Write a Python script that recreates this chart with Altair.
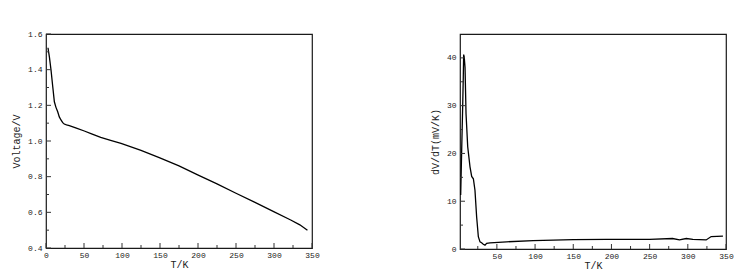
import altair as alt
import pandas as pd

# Left panel: Voltage vs T
t_v = [2.6, 4.5, 6.6, 9, 11, 13, 15.4, 17.5, 19.7, 22, 24, 27, 30.7, 40, 50.4, 60, 72, 85, 98.7, 125, 149, 175, 199.6, 225, 250, 275, 299.6, 322, 334, 344]
voltage = [1.523, 1.47, 1.398, 1.30, 1.22, 1.19, 1.164, 1.135, 1.118, 1.103, 1.095, 1.09, 1.086, 1.072, 1.056, 1.04, 1.02, 1.004, 0.987, 0.948, 0.907, 0.86, 0.81, 0.76, 0.707, 0.656, 0.604, 0.557, 0.53, 0.499]

# Right panel: dV/dT vs T
t_d = [2.6, 3.9, 5.2, 6.0, 6.5, 7.2, 8.3, 9.6, 11.8, 14.8, 17, 19.2, 21.3, 23.5, 25.7, 27.9, 30, 32.2, 34.4, 36.6, 41, 62.7, 97.6, 150, 193, 250, 280, 289, 298, 306.6, 324, 330.6, 346]
dvdt = [11.3, 20.7, 29.7, 36, 40.7, 40.2, 38, 28.3, 21.4, 17.2, 15.2, 14.7, 12.3, 6.7, 2.6, 1.5, 1.3, 1.0, 0.8, 1.2, 1.3, 1.5, 1.74, 1.95, 2.0, 2.0, 2.2, 1.9, 2.2, 2.0, 1.9, 2.6, 2.7]

x_major_left = [0, 50, 100, 150, 200, 250, 300, 350]
x_minor = [25, 75, 125, 175, 225, 275, 325]
y_major_left = [0.4, 0.6, 0.8, 1.0, 1.2, 1.4, 1.6]
y_minor_left = [0.5, 0.7, 0.9, 1.1, 1.3, 1.5]
x_major_right = [50, 100, 150, 200, 250, 300, 350]
y_major_right = [0, 10, 20, 30, 40]
y_minor_right = [5, 15, 25, 35]

FONT = "Liberation Mono"
W, H1, H2 = 266, 214, 215


def panel(df, ycol, ytitle, xdom, ydom, xmaj, xmin, ymaj, ymin, H, yfmt):
    xs = alt.Scale(domain=xdom, nice=False, zero=False)
    ys = alt.Scale(domain=ydom, nice=False, zero=False)
    xaxis = alt.Axis(values=xmaj, ticks=False, domain=False, grid=False,
                     labelOverlap=False, labelFlush=False,
                     labelFont=FONT, labelFontSize=8, labelColor="#222",
                     titleFont=FONT, titleFontSize=10, titleFontWeight="normal",
                     titleColor="#222", labelPadding=3, titlePadding=0)
    yaxis = alt.Axis(values=ymaj, ticks=False, domain=False, grid=False, format=yfmt,
                     labelOverlap=False, labelFlush=False,
                     labelFont=FONT, labelFontSize=8, labelColor="#222",
                     titleFont=FONT, titleFontSize=10, titleFontWeight="normal",
                     titleColor="#222", labelPadding=4, titlePadding=6)
    line = alt.Chart(df).mark_line(color="black", strokeWidth=1.3, clip=True).encode(
        x=alt.X("T:Q", scale=xs, title="T/K", axis=xaxis),
        y=alt.Y(f"{ycol}:Q", scale=ys, title=ytitle, axis=yaxis),
    )
    xticks_maj = alt.Chart(pd.DataFrame({"T": xmaj})).mark_rule(color="#333", strokeWidth=1).encode(
        x=alt.X("T:Q", scale=xs, title="T/K", axis=xaxis), y=alt.value(H), y2=alt.value(H - 5))
    xticks_min = alt.Chart(pd.DataFrame({"T": xmin})).mark_rule(color="#333", strokeWidth=1).encode(
        x=alt.X("T:Q", scale=xs, title="T/K", axis=xaxis), y=alt.value(H), y2=alt.value(H - 3))
    yticks_maj = alt.Chart(pd.DataFrame({"Y": ymaj})).mark_rule(color="#333", strokeWidth=1).encode(
        y=alt.Y("Y:Q", scale=ys, title=ytitle, axis=yaxis), x=alt.value(0), x2=alt.value(5))
    yticks_min = alt.Chart(pd.DataFrame({"Y": ymin})).mark_rule(color="#333", strokeWidth=1).encode(
        y=alt.Y("Y:Q", scale=ys, title=ytitle, axis=yaxis), x=alt.value(0), x2=alt.value(3))
    return alt.layer(line, xticks_maj, xticks_min, yticks_maj, yticks_min).properties(width=W, height=H)


df_v = pd.DataFrame({"T": t_v, "V": voltage})
df_d = pd.DataFrame({"T": t_d, "D": dvdt})

left = panel(df_v, "V", "Voltage/V", [0, 350], [0.4, 1.6], x_major_left, x_minor,
             y_major_left, y_minor_left, H1, ".1f")
right = panel(df_d, "D", "dV/dT(mV/K)", [1.7, 350], [0, 45], x_major_right, x_minor,
              y_major_right, y_minor_right, H2, "d")

chart = alt.hconcat(left, right, spacing=109).properties(
    padding={"left": 10, "top": 29, "right": 5, "bottom": 0},
    background="white",
).configure_view(stroke="#1a1a1a", strokeWidth=1.2)

chart.save("out.html", embed_options={"renderer": "svg", "actions": False})
